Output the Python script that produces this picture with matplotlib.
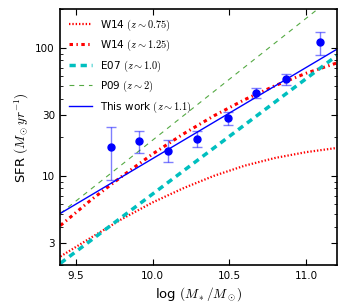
import matplotlib
matplotlib.use('Agg')
import matplotlib.pyplot as plt
import matplotlib.ticker as ticker
import numpy as np

plt.rcParams['font.family'] = 'DejaVu Sans'
plt.rcParams['mathtext.fontset'] = 'cm'
plt.rcParams['xtick.direction'] = 'in'
plt.rcParams['ytick.direction'] = 'in'
plt.rcParams['xtick.top'] = True
plt.rcParams['ytick.right'] = True
plt.rcParams['lines.scale_dashes'] = False

# measured points (this work)
mass_obs = [9.73, 9.915, 10.10, 10.29, 10.49, 10.675, 10.87, 11.09]
sfr_obs = [16.9, 18.7, 15.6, 19.5, 28.1, 44.0, 56.5, 110.0]
sfr_lo = [9.3, 15.1, 12.9, 16.7, 24.8, 40.4, 51.5, 88.0]
sfr_hi = [24.2, 22.4, 19.0, 22.3, 31.4, 48.5, 61.8, 132.0]

# model curves
mass_grid = [9.4, 9.6, 9.8, 10.0, 10.2, 10.4, 10.6, 10.8, 11.0, 11.2]
w14_z075 = [2.35, 3.3, 4.6, 6.2, 8.0, 10.0, 12.0, 13.8, 15.3, 16.5]
w14_z125 = [4.1, 6.5, 9.9, 14.8, 21.2, 29.4, 39.3, 50.6, 63.1, 75.9]

mass_ends = [9.4, 11.2]
e07 = [2.08, 86.5]
p09 = [5.1, 262.0]
this_work = [5.1, 97.0]

fig = plt.figure(figsize=(3.62, 3.03), dpi=100)
ax = fig.add_axes([0.167, 0.124, 0.763, 0.846])

ax.plot(mass_grid, w14_z075, color='red', linestyle=(0, (1, 1.4)), linewidth=1.6,
        label=r'W14 $(z\sim0.75)$')
ax.plot(mass_grid, w14_z125, color='red', linestyle=(0, (2.5, 2.5, 1, 2.5)), linewidth=2.2,
        label=r'W14 $(z\sim1.25)$')
ax.plot(mass_ends, e07, color='c', linestyle=(0, (4.5, 3.5)), linewidth=2.5,
        label=r'E07 $(z\sim1.0)$')
ax.plot(mass_ends, p09, color='#55aa44', linestyle=(0, (3.5, 3.5)), linewidth=0.8,
        label=r'P09 $(z\sim2)$')
ax.plot(mass_ends, this_work, color='b', linestyle='-', linewidth=1,
        label=r'This work $(z\sim1.1)$')

yerr = [np.array(sfr_obs) - np.array(sfr_lo), np.array(sfr_hi) - np.array(sfr_obs)]
ax.errorbar(mass_obs, sfr_obs, yerr=yerr, fmt='none', ecolor='b', alpha=0.5,
            elinewidth=1, capsize=3.5, capthick=1)
ax.plot(mass_obs, sfr_obs, 'o', color='b', markersize=5, linestyle='none')

ax.set_yscale('log')
ax.set_xlim(9.4, 11.2)
ax.set_ylim(2, 200)
ax.set_xticks([9.5, 10.0, 10.5, 11.0])
ax.yaxis.set_major_locator(ticker.FixedLocator([3, 10, 30, 100]))
ax.yaxis.set_major_formatter(ticker.FixedFormatter(['3', '10', '30', '100']))
ax.yaxis.set_minor_locator(ticker.LogLocator(base=10, subs=[2, 4, 5, 6, 7, 8, 9]))
ax.yaxis.set_minor_formatter(ticker.NullFormatter())
ax.tick_params(which='major', length=4, labelsize=7.5, pad=4)
ax.tick_params(which='minor', length=2)
for s in ax.spines.values():
    s.set_linewidth(1.2)

ax.set_xlabel(r'log $(M_*/M_\odot)$', fontsize=9.5, labelpad=3)
ax.set_ylabel(r'SFR $(M_\odot yr^{-1})$', fontsize=9.5, labelpad=3)

ax.legend(loc='upper left', frameon=False, fontsize=7.5, handlelength=2.2,
          handletextpad=0.8, labelspacing=0.5, borderaxespad=0.4)

fig.savefig('out.png', dpi=100)
